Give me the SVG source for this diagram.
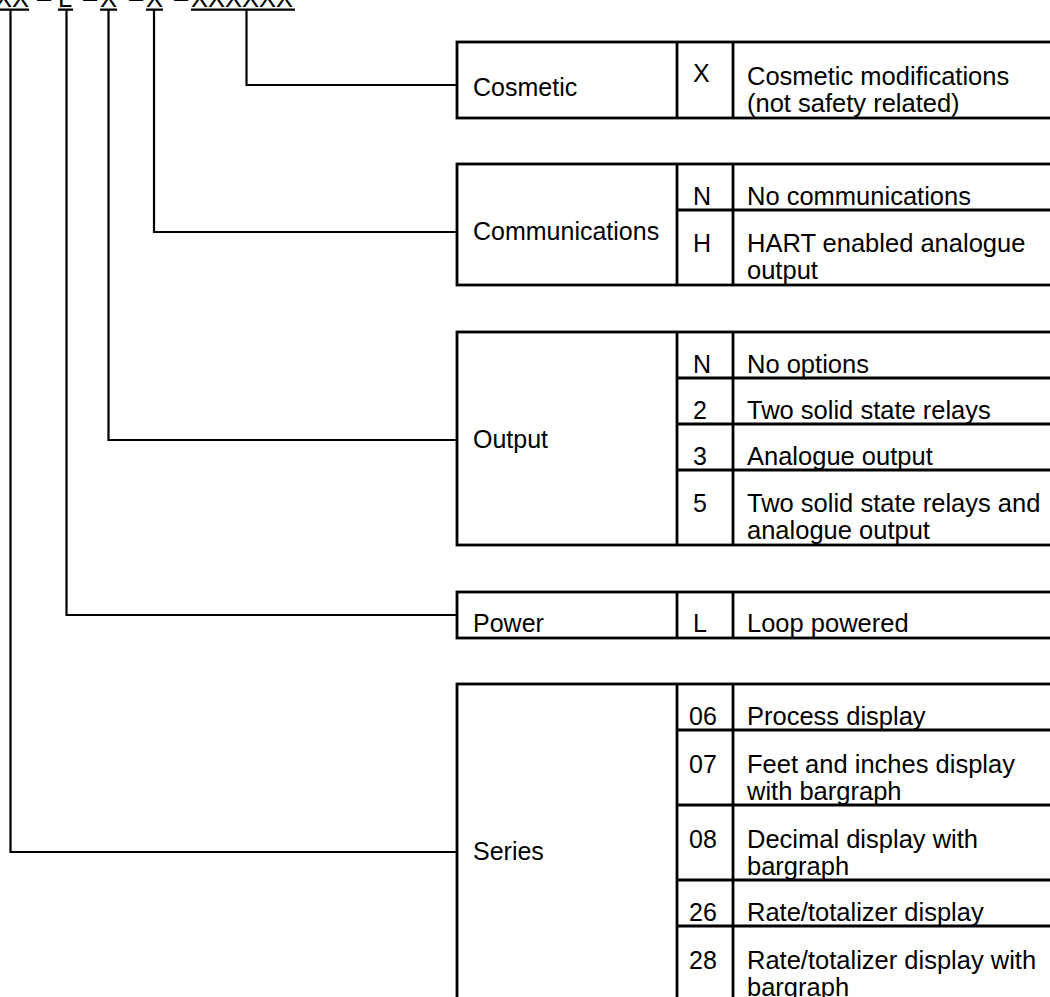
<svg xmlns="http://www.w3.org/2000/svg" width="1050" height="997" viewBox="0 0 1050 997">
<style>
text{font-family:"Liberation Sans",Arial,sans-serif;font-size:25px;fill:#000}
.t{font-size:25.5px}
.d{font-size:25.5px}
.box{fill:none;stroke:#000;stroke-width:2.8}
.ln{stroke:#000;stroke-width:2.8;fill:none}
.con{stroke:#000;stroke-width:2.2;fill:none}
</style>
<rect width="1050" height="997" fill="#fff"/>
<g id="code">
<text class="t" x="-5" y="6.5">XX</text>
<text class="t" x="37" y="6.5">–</text>
<text class="t" x="58" y="6.5">L</text>
<text class="t" x="83" y="6.5">–</text>
<text class="t" x="100" y="6.5">X</text>
<text class="t" x="129" y="6.5">–</text>
<text class="t" x="146" y="6.5">X</text>
<text class="t" x="174" y="6.5">–</text>
<text class="t" x="191" y="6.5">XXXXXX</text>
<path class="con" d="M0 9.6H29M58 9.6H73M100 9.6H117M146 9.6H163M191 9.6H295"/>
</g>
<g id="connectors">
<path class="con" d="M246.5 10V85H458"/>
<path class="con" d="M154 10V232H458"/>
<path class="con" d="M108.5 10V440H458"/>
<path class="con" d="M66.5 10V615H458"/>
<path class="con" d="M10.5 10V852H458"/>
</g>
<g id="cosmetic">
<rect class="box" x="457" y="42" width="600" height="76"/>
<path class="ln" d="M677 42V118M733 42V118"/>
<text x="473" y="96">Cosmetic</text>
<text x="693" y="82">X</text>
<text class="d" x="747" y="85">Cosmetic modifications</text>
<text class="d" x="747" y="112">(not safety related)</text>
</g>
<g id="communications">
<rect class="box" x="457" y="164" width="600" height="121"/>
<path class="ln" d="M677 164V285M733 164V285M677 210H1057"/>
<text x="473" y="240">Communications</text>
<text x="693" y="204.5">N</text>
<text class="d" x="747" y="204.5">No communications</text>
<text x="693" y="252">H</text>
<text class="d" x="747" y="252">HART enabled analogue</text>
<text class="d" x="747" y="279">output</text>
</g>
<g id="output">
<rect class="box" x="457" y="332" width="600" height="213"/>
<path class="ln" d="M677 332V545M733 332V545M677 378H1057M677 424H1057M677 470H1057"/>
<text x="473" y="448">Output</text>
<text x="693" y="372.5">N</text>
<text class="d" x="747" y="372.5">No options</text>
<text x="693" y="418.5">2</text>
<text class="d" x="747" y="418.5">Two solid state relays</text>
<text x="693" y="464.5">3</text>
<text class="d" x="747" y="464.5">Analogue output</text>
<text x="693" y="512">5</text>
<text class="d" x="747" y="512">Two solid state relays and</text>
<text class="d" x="747" y="539">analogue output</text>
</g>
<g id="power">
<rect class="box" x="457" y="592" width="600" height="46"/>
<path class="ln" d="M677 592V638M733 592V638"/>
<text x="473" y="632">Power</text>
<text x="693" y="632">L</text>
<text class="d" x="747" y="632">Loop powered</text>
</g>
<g id="series">
<rect class="box" x="457" y="684" width="600" height="330"/>
<path class="ln" d="M677 684V1014M733 684V1014M677 730H1057M677 805H1057M677 880H1057M677 926H1057"/>
<text x="473" y="860">Series</text>
<text x="689" y="724.5">06</text>
<text class="d" x="747" y="724.5">Process display</text>
<text x="689" y="772.5">07</text>
<text class="d" x="747" y="772.5">Feet and inches display</text>
<text class="d" x="747" y="799.5">with bargraph</text>
<text x="689" y="847.5">08</text>
<text class="d" x="747" y="847.5">Decimal display with</text>
<text class="d" x="747" y="874.5">bargraph</text>
<text x="689" y="920.5">26</text>
<text class="d" x="747" y="920.5">Rate/totalizer display</text>
<text x="689" y="968.5">28</text>
<text class="d" x="747" y="968.5">Rate/totalizer display with</text>
<text class="d" x="747" y="995.5">bargraph</text>
</g>
</svg>
